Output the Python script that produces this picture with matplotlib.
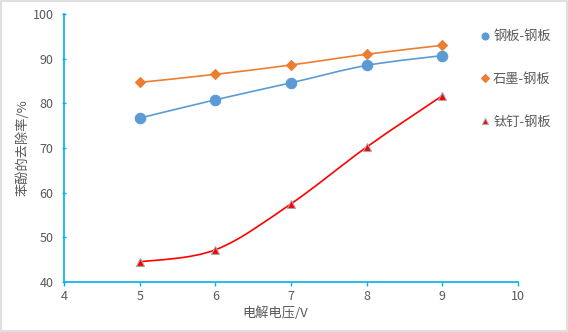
import numpy as np
import matplotlib.pyplot as plt
from matplotlib.path import Path
from matplotlib.patches import PathPatch, Rectangle
from matplotlib.lines import Line2D

plt.rcParams['font.family'] = ['Noto Sans CJK SC', 'DejaVu Sans']

# --- data ---
voltage = [5, 6, 7, 8, 9]
steel_steel = [76.7, 80.8, 84.6, 88.5, 90.7]
graphite_steel = [84.7, 86.5, 88.6, 91.0, 93.0]
titanium_steel = [44.5, 47.2, 57.5, 70.2, 81.7]
series_labels = ["钢板-钢板", "石墨-钢板", "钛钉-钢板"]


def smooth_path(x, y, k=1 / 6.0):
    """Excel-like smoothed line as cubic Bezier (Catmull-Rom tangents)."""
    pts = np.column_stack([x, y]).astype(float)
    n = len(pts)
    verts = [pts[0]]
    codes = [Path.MOVETO]
    for i in range(n - 1):
        p0 = pts[max(i - 1, 0)]
        p1 = pts[i]
        p2 = pts[i + 1]
        p3 = pts[min(i + 2, n - 1)]
        c1 = p1 + (p2 - p0) * k
        c2 = p2 - (p3 - p1) * k
        verts += [c1, c2, p2]
        codes += [Path.CURVE4] * 3
    return Path(verts, codes)


fig = plt.figure(figsize=(5.68, 3.32), dpi=100)
fig.patches.append(Rectangle((0.002, 0.003), 0.996, 0.994, transform=fig.transFigure,
                             fill=False, edgecolor="#D9D9D9", linewidth=1.2))
ax = fig.add_axes([0.1127, 0.1506, 0.799, 0.807])

styles = [
    dict(color="#5B9BD5", marker="o", ms=7.5, lms=5, mfc="#5B9BD5", mec="#5B9BD5"),
    dict(color="#ED7D31", marker="D", ms=5.5, lms=4, mfc="#ED7D31", mec="#ED7D31"),
    dict(color="#FF0000", marker="^", ms=6, lms=4.5, mfc="#FF0000", mec="#A6A6A6"),
]
handles = []
for vals, st, lab in zip([steel_steel, graphite_steel, titanium_steel], styles, series_labels):
    ax.add_patch(PathPatch(smooth_path(voltage, vals), facecolor="none",
                           edgecolor=st["color"], linewidth=1.2, zorder=2))
    ax.plot(voltage, vals, linestyle="none", marker=st["marker"], ms=st["ms"],
            mfc=st["mfc"], mec=st["mec"], mew=0.8, zorder=3)
    handles.append(Line2D([], [], linestyle="none", marker=st["marker"], ms=st["lms"],
                          mfc=st["mfc"], mec=st["mec"], mew=0.8, label=lab))

ax.set_xlim(4, 10)
ax.set_ylim(40, 100)
ax.set_xticks(range(4, 11))
ax.set_yticks(range(40, 101, 10))

axis_color = "#00B0F0"
for s in ["top", "right"]:
    ax.spines[s].set_visible(False)
for s in ["left", "bottom"]:
    ax.spines[s].set_color(axis_color)
    ax.spines[s].set_linewidth(1.2)
ax.tick_params(axis="both", colors=axis_color, labelcolor="#595959", labelsize=9,
               length=3, width=1.0)
ax.tick_params(axis="x", direction="out", pad=3)
ax.tick_params(axis="y", direction="inout", pad=6)

ax.set_xlabel("电解电压/V", fontsize=9.5, color="#595959")
ax.xaxis.set_label_coords(0.465, -0.092)
ax.set_ylabel("苯酚的去除率/%", fontsize=9.5, color="#595959")
ax.yaxis.set_label_coords(-0.076, 0.5)

fig.legend(handles=handles, loc="upper left", bbox_to_anchor=(0.838, 0.925),
           frameon=False, fontsize=9.5, labelcolor="#595959", handlelength=0.5,
           handletextpad=0.4, labelspacing=2.25, borderaxespad=0)

fig.savefig("out.png", dpi=100)
